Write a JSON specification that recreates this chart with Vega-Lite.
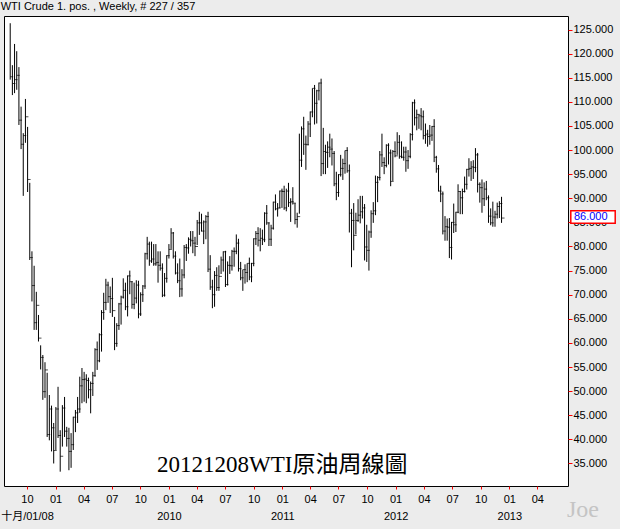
{
"$schema": "https://vega.github.io/schema/vega-lite/v6.json",
"width": 564,
"height": 470,
"autosize": {"type": "none"},
"padding": {"left": 4, "top": 16, "right": 52, "bottom": 43},
"background": "#ECECEC",
"config": {"view": {"stroke": "black", "strokeWidth": 1, "fill": "white"}, "font": "Liberation Sans", "axis": {"labelOverlap": false, "labelBound": false, "labelFlush": false}},
"title": {"text": "WTI Crude 1. pos. , Weekly, # 227 / 357", "anchor": "start", "font": "Liberation Sans", "fontSize": 11, "fontWeight": "normal", "color": "black", "offset": 4},
"datasets": {
"bars": [
{"d":"2008-08-08","h":126.3,"l":114.6,"c":115.2},
{"d":"2008-08-15","h":117.6,"l":111.4,"c":113.8},
{"d":"2008-08-22","h":122.0,"l":111.8,"c":114.6},
{"d":"2008-08-29","h":120.5,"l":112.5,"c":115.5},
{"d":"2008-09-05","h":117.2,"l":105.2,"c":106.2},
{"d":"2008-09-12","h":109.0,"l":100.2,"c":101.2},
{"d":"2008-09-19","h":103.5,"l":90.5,"c":103.0},
{"d":"2008-09-26","h":110.6,"l":101.5,"c":106.9},
{"d":"2008-10-03","h":104.8,"l":91.3,"c":93.9},
{"d":"2008-10-10","h":93.2,"l":77.2,"c":77.7},
{"d":"2008-10-17","h":79.0,"l":68.6,"c":71.9},
{"d":"2008-10-24","h":76.0,"l":62.7,"c":64.2},
{"d":"2008-10-31","h":70.6,"l":62.7,"c":67.8},
{"d":"2008-11-07","h":65.8,"l":60.3,"c":61.0},
{"d":"2008-11-14","h":59.5,"l":54.5,"c":57.0},
{"d":"2008-11-21","h":57.5,"l":48.2,"c":49.9},
{"d":"2008-11-28","h":56.0,"l":48.6,"c":54.4},
{"d":"2008-12-05","h":53.8,"l":40.5,"c":41.0},
{"d":"2008-12-12","h":49.2,"l":39.8,"c":46.3},
{"d":"2008-12-19","h":47.0,"l":37.5,"c":42.4},
{"d":"2008-12-26","h":43.4,"l":35.0,"c":37.7},
{"d":"2009-01-02","h":46.7,"l":37.8,"c":46.3},
{"d":"2009-01-09","h":50.9,"l":40.3,"c":40.8},
{"d":"2009-01-16","h":41.9,"l":33.3,"c":36.5},
{"d":"2009-01-23","h":47.1,"l":38.5,"c":46.5},
{"d":"2009-01-30","h":48.8,"l":40.5,"c":41.7},
{"d":"2009-02-06","h":42.6,"l":38.5,"c":40.2},
{"d":"2009-02-13","h":42.4,"l":33.6,"c":37.5},
{"d":"2009-02-20","h":41.3,"l":34.1,"c":38.9},
{"d":"2009-02-27","h":44.7,"l":37.8,"c":44.6},
{"d":"2009-03-06","h":46.1,"l":41.5,"c":45.5},
{"d":"2009-03-13","h":48.8,"l":43.4,"c":46.3},
{"d":"2009-03-20","h":53.0,"l":45.5,"c":51.1},
{"d":"2009-03-27","h":54.8,"l":47.5,"c":52.4},
{"d":"2009-04-03","h":54.0,"l":47.8,"c":52.5},
{"d":"2009-04-10","h":53.5,"l":47.5,"c":52.2},
{"d":"2009-04-17","h":52.8,"l":48.5,"c":50.3},
{"d":"2009-04-24","h":52.0,"l":45.4,"c":51.6},
{"d":"2009-05-01","h":54.0,"l":49.0,"c":53.2},
{"d":"2009-05-08","h":58.9,"l":53.0,"c":58.6},
{"d":"2009-05-15","h":60.3,"l":54.4,"c":56.3},
{"d":"2009-05-22","h":62.0,"l":56.0,"c":61.7},
{"d":"2009-05-29","h":66.8,"l":58.2,"c":66.3},
{"d":"2009-06-05","h":70.4,"l":64.8,"c":68.4},
{"d":"2009-06-12","h":73.3,"l":66.8,"c":72.0},
{"d":"2009-06-19","h":72.7,"l":68.3,"c":69.6},
{"d":"2009-06-26","h":71.7,"l":66.2,"c":69.2},
{"d":"2009-07-03","h":73.5,"l":65.4,"c":66.7},
{"d":"2009-07-10","h":65.4,"l":58.5,"c":59.9},
{"d":"2009-07-17","h":64.1,"l":59.2,"c":63.6},
{"d":"2009-07-24","h":68.3,"l":62.7,"c":68.1},
{"d":"2009-07-31","h":69.8,"l":63.8,"c":69.5},
{"d":"2009-08-07","h":73.4,"l":69.2,"c":70.9},
{"d":"2009-08-14","h":72.5,"l":66.8,"c":67.5},
{"d":"2009-08-21","h":74.0,"l":65.5,"c":73.9},
{"d":"2009-08-28","h":75.0,"l":70.1,"c":72.7},
{"d":"2009-09-04","h":72.8,"l":67.1,"c":68.0},
{"d":"2009-09-11","h":72.5,"l":67.0,"c":69.3},
{"d":"2009-09-18","h":73.0,"l":68.2,"c":72.0},
{"d":"2009-09-25","h":72.9,"l":65.1,"c":66.0},
{"d":"2009-10-02","h":70.5,"l":65.6,"c":70.0},
{"d":"2009-10-09","h":72.0,"l":68.5,"c":71.8},
{"d":"2009-10-16","h":78.7,"l":71.2,"c":78.5},
{"d":"2009-10-23","h":82.0,"l":77.3,"c":80.5},
{"d":"2009-10-30","h":81.0,"l":76.0,"c":77.0},
{"d":"2009-11-06","h":81.0,"l":76.6,"c":77.4},
{"d":"2009-11-13","h":80.5,"l":76.0,"c":76.4},
{"d":"2009-11-20","h":80.5,"l":76.0,"c":76.7},
{"d":"2009-11-27","h":79.0,"l":72.5,"c":76.1},
{"d":"2009-12-04","h":79.0,"l":75.0,"c":75.5},
{"d":"2009-12-11","h":76.5,"l":69.5,"c":69.9},
{"d":"2009-12-18","h":74.5,"l":69.6,"c":73.4},
{"d":"2009-12-25","h":78.2,"l":72.5,"c":78.1},
{"d":"2010-01-01","h":80.5,"l":77.5,"c":79.4},
{"d":"2010-01-08","h":83.8,"l":79.5,"c":82.8},
{"d":"2010-01-15","h":83.0,"l":77.5,"c":78.0},
{"d":"2010-01-22","h":79.0,"l":74.2,"c":74.5},
{"d":"2010-01-29","h":76.5,"l":72.4,"c":72.9},
{"d":"2010-02-05","h":77.5,"l":69.5,"c":71.2},
{"d":"2010-02-12","h":75.3,"l":69.6,"c":74.1},
{"d":"2010-02-19","h":80.3,"l":73.4,"c":79.8},
{"d":"2010-02-26","h":80.5,"l":77.0,"c":79.7},
{"d":"2010-03-05","h":81.9,"l":78.5,"c":81.5},
{"d":"2010-03-12","h":83.2,"l":80.0,"c":81.2},
{"d":"2010-03-19","h":83.2,"l":78.6,"c":80.7},
{"d":"2010-03-26","h":82.0,"l":78.0,"c":80.0},
{"d":"2010-04-02","h":85.5,"l":80.3,"c":84.9},
{"d":"2010-04-09","h":87.2,"l":82.4,"c":84.9},
{"d":"2010-04-16","h":86.8,"l":83.1,"c":83.2},
{"d":"2010-04-23","h":85.4,"l":80.5,"c":85.1},
{"d":"2010-04-30","h":86.5,"l":81.5,"c":86.2},
{"d":"2010-05-07","h":87.2,"l":74.7,"c":75.3},
{"d":"2010-05-14","h":78.2,"l":71.0,"c":71.6},
{"d":"2010-05-21","h":73.1,"l":67.2,"c":70.0},
{"d":"2010-05-28","h":74.9,"l":67.5,"c":74.0},
{"d":"2010-06-04","h":75.7,"l":70.8,"c":71.5},
{"d":"2010-06-11","h":76.1,"l":70.8,"c":73.8},
{"d":"2010-06-18","h":77.9,"l":74.3,"c":77.2},
{"d":"2010-06-25","h":79.0,"l":74.8,"c":78.9},
{"d":"2010-07-02","h":79.1,"l":71.6,"c":72.1},
{"d":"2010-07-09","h":76.9,"l":71.9,"c":76.1},
{"d":"2010-07-16","h":78.0,"l":74.3,"c":76.0},
{"d":"2010-07-23","h":79.3,"l":75.0,"c":79.0},
{"d":"2010-07-30","h":79.8,"l":75.8,"c":79.0},
{"d":"2010-08-06","h":82.5,"l":78.4,"c":80.7},
{"d":"2010-08-13","h":81.6,"l":74.8,"c":75.4},
{"d":"2010-08-20","h":76.8,"l":73.0,"c":73.5},
{"d":"2010-08-27","h":75.2,"l":70.8,"c":75.2},
{"d":"2010-09-03","h":76.3,"l":72.3,"c":74.6},
{"d":"2010-09-10","h":76.5,"l":72.6,"c":76.5},
{"d":"2010-09-17","h":77.7,"l":73.0,"c":73.7},
{"d":"2010-09-24","h":76.6,"l":72.6,"c":76.5},
{"d":"2010-10-01","h":81.7,"l":75.9,"c":81.6},
{"d":"2010-10-08","h":83.2,"l":80.3,"c":82.7},
{"d":"2010-10-15","h":84.0,"l":80.0,"c":81.3},
{"d":"2010-10-22","h":83.8,"l":79.0,"c":81.7},
{"d":"2010-10-29","h":83.5,"l":80.3,"c":81.4},
{"d":"2010-11-05","h":87.1,"l":80.9,"c":86.9},
{"d":"2010-11-12","h":88.6,"l":84.5,"c":84.9},
{"d":"2010-11-19","h":85.0,"l":80.1,"c":81.5},
{"d":"2010-11-26","h":84.5,"l":80.1,"c":83.8},
{"d":"2010-12-03","h":89.3,"l":83.5,"c":89.2},
{"d":"2010-12-10","h":90.8,"l":87.5,"c":87.8},
{"d":"2010-12-17","h":89.0,"l":86.2,"c":88.0},
{"d":"2010-12-24","h":91.6,"l":87.9,"c":91.5},
{"d":"2010-12-31","h":92.0,"l":88.0,"c":91.4},
{"d":"2011-01-07","h":92.6,"l":87.6,"c":88.0},
{"d":"2011-01-14","h":92.0,"l":87.3,"c":91.5},
{"d":"2011-01-21","h":93.2,"l":88.2,"c":89.1},
{"d":"2011-01-28","h":90.0,"l":85.1,"c":89.3},
{"d":"2011-02-04","h":92.3,"l":88.7,"c":89.0},
{"d":"2011-02-11","h":89.0,"l":84.6,"c":85.6},
{"d":"2011-02-18","h":87.0,"l":83.9,"c":86.2},
{"d":"2011-02-25","h":103.4,"l":86.8,"c":97.9},
{"d":"2011-03-04","h":104.9,"l":96.5,"c":104.4},
{"d":"2011-03-11","h":106.9,"l":99.0,"c":101.2},
{"d":"2011-03-18","h":103.0,"l":95.9,"c":101.1},
{"d":"2011-03-25","h":106.0,"l":101.0,"c":105.4},
{"d":"2011-04-01","h":108.0,"l":102.7,"c":107.9},
{"d":"2011-04-08","h":112.8,"l":106.8,"c":112.8},
{"d":"2011-04-15","h":113.5,"l":105.3,"c":109.7},
{"d":"2011-04-22","h":112.5,"l":105.5,"c":112.3},
{"d":"2011-04-29","h":114.0,"l":110.3,"c":113.9},
{"d":"2011-05-06","h":114.8,"l":94.6,"c":97.2},
{"d":"2011-05-13","h":104.6,"l":95.0,"c":99.7},
{"d":"2011-05-20","h":101.1,"l":95.0,"c":99.5},
{"d":"2011-05-27","h":101.8,"l":96.3,"c":100.6},
{"d":"2011-06-03","h":103.4,"l":98.5,"c":100.2},
{"d":"2011-06-10","h":102.4,"l":96.8,"c":99.3},
{"d":"2011-06-17","h":99.8,"l":92.5,"c":93.0},
{"d":"2011-06-24","h":95.5,"l":89.6,"c":91.2},
{"d":"2011-07-01","h":95.0,"l":90.3,"c":94.9},
{"d":"2011-07-08","h":99.0,"l":94.5,"c":96.2},
{"d":"2011-07-15","h":98.2,"l":93.8,"c":97.2},
{"d":"2011-07-22","h":99.9,"l":95.1,"c":99.9},
{"d":"2011-07-29","h":100.6,"l":95.3,"c":95.7},
{"d":"2011-08-05","h":97.0,"l":82.9,"c":86.9},
{"d":"2011-08-12","h":87.8,"l":75.7,"c":85.4},
{"d":"2011-08-19","h":89.0,"l":79.2,"c":82.3},
{"d":"2011-08-26","h":87.0,"l":82.5,"c":85.4},
{"d":"2011-09-02","h":89.8,"l":85.1,"c":86.5},
{"d":"2011-09-09","h":90.5,"l":84.8,"c":87.2},
{"d":"2011-09-16","h":90.5,"l":85.8,"c":88.0},
{"d":"2011-09-23","h":88.8,"l":77.1,"c":79.9},
{"d":"2011-09-30","h":84.5,"l":76.8,"c":79.2},
{"d":"2011-10-07","h":83.3,"l":75.0,"c":83.0},
{"d":"2011-10-14","h":87.5,"l":81.8,"c":86.8},
{"d":"2011-10-21","h":89.2,"l":84.9,"c":87.4},
{"d":"2011-10-28","h":94.7,"l":86.5,"c":93.3},
{"d":"2011-11-04","h":94.6,"l":89.2,"c":94.3},
{"d":"2011-11-11","h":99.8,"l":93.7,"c":99.0},
{"d":"2011-11-18","h":103.4,"l":96.5,"c":97.4},
{"d":"2011-11-25","h":98.5,"l":95.0,"c":96.8},
{"d":"2011-12-02","h":101.2,"l":96.4,"c":101.0},
{"d":"2011-12-09","h":101.4,"l":97.0,"c":99.4},
{"d":"2011-12-16","h":100.1,"l":92.5,"c":93.5},
{"d":"2011-12-23","h":100.0,"l":93.6,"c":99.7},
{"d":"2011-12-30","h":101.8,"l":98.5,"c":98.8},
{"d":"2012-01-06","h":103.7,"l":99.0,"c":101.6},
{"d":"2012-01-13","h":103.1,"l":98.2,"c":98.7},
{"d":"2012-01-20","h":101.8,"l":98.3,"c":98.5},
{"d":"2012-01-27","h":100.7,"l":97.8,"c":99.6},
{"d":"2012-02-03","h":100.7,"l":95.5,"c":97.8},
{"d":"2012-02-10","h":100.0,"l":96.1,"c":98.7},
{"d":"2012-02-17","h":103.5,"l":98.3,"c":103.2},
{"d":"2012-02-24","h":110.0,"l":102.0,"c":109.8},
{"d":"2012-03-02","h":110.5,"l":105.1,"c":106.7},
{"d":"2012-03-09","h":108.4,"l":104.1,"c":107.4},
{"d":"2012-03-16","h":107.4,"l":104.4,"c":107.1},
{"d":"2012-03-23","h":108.7,"l":104.1,"c":106.9},
{"d":"2012-03-30","h":108.2,"l":102.2,"c":103.0},
{"d":"2012-04-06","h":105.5,"l":101.3,"c":103.3},
{"d":"2012-04-13","h":104.2,"l":100.7,"c":102.8},
{"d":"2012-04-20","h":105.2,"l":101.1,"c":103.1},
{"d":"2012-04-27","h":105.0,"l":101.9,"c":104.9},
{"d":"2012-05-04","h":106.4,"l":97.5,"c":98.5},
{"d":"2012-05-11","h":98.8,"l":95.3,"c":96.1},
{"d":"2012-05-18","h":96.9,"l":91.4,"c":91.5},
{"d":"2012-05-25","h":92.6,"l":89.2,"c":90.9},
{"d":"2012-06-01","h":91.4,"l":82.5,"c":83.2},
{"d":"2012-06-08","h":86.3,"l":81.2,"c":84.1},
{"d":"2012-06-15","h":85.8,"l":81.2,"c":84.0},
{"d":"2012-06-22","h":85.9,"l":77.6,"c":79.8},
{"d":"2012-06-29","h":85.1,"l":77.3,"c":85.0},
{"d":"2012-07-06","h":88.9,"l":82.8,"c":84.5},
{"d":"2012-07-13","h":87.2,"l":83.0,"c":87.1},
{"d":"2012-07-20","h":92.9,"l":86.9,"c":91.4},
{"d":"2012-07-27","h":91.5,"l":86.7,"c":90.1},
{"d":"2012-08-03","h":92.0,"l":86.7,"c":91.4},
{"d":"2012-08-10","h":94.5,"l":91.2,"c":92.9},
{"d":"2012-08-17","h":96.1,"l":91.8,"c":96.0},
{"d":"2012-08-24","h":98.3,"l":94.5,"c":96.2},
{"d":"2012-08-31","h":97.7,"l":93.6,"c":96.5},
{"d":"2012-09-07","h":97.9,"l":94.0,"c":96.4},
{"d":"2012-09-14","h":100.4,"l":95.4,"c":99.0},
{"d":"2012-09-21","h":99.4,"l":91.2,"c":92.9},
{"d":"2012-09-28","h":93.3,"l":89.1,"c":92.2},
{"d":"2012-10-05","h":93.9,"l":87.0,"c":89.9},
{"d":"2012-10-12","h":93.3,"l":88.4,"c":91.9},
{"d":"2012-10-19","h":93.6,"l":89.6,"c":90.1},
{"d":"2012-10-26","h":90.6,"l":84.9,"c":86.3},
{"d":"2012-11-02","h":87.9,"l":84.4,"c":84.9},
{"d":"2012-11-09","h":89.3,"l":84.1,"c":86.1},
{"d":"2012-11-16","h":87.4,"l":84.1,"c":86.7},
{"d":"2012-11-23","h":89.1,"l":85.8,"c":88.3},
{"d":"2012-11-30","h":89.4,"l":85.9,"c":88.9},
{"d":"2012-12-07","h":90.3,"l":84.9,"c":85.9}
]
},
"layer": [
{
"data": {"name": "bars"},
"mark": {"type": "rule", "color": "black", "strokeWidth": 1},
"encoding": {
"x": {"field": "d", "type": "temporal",
"scale": {"domain": [{"year": 2008, "month": 7, "date": 19}, {"year": 2013, "month": 7, "date": 9}]},
"axis": {"title": null, "grid": false, "domain": false, "tickColor": "red", "tickSize": 3, "labelPadding": 4, "tickCount": 60,
"labelFont": "Liberation Sans, Noto Sans CJK TC", "labelFontSize": 11, "labelColor": "black",
"labelOverlap": false, "labelBound": false, "labelFlush": false, "labelLineHeight": 17,
"values": [
{"year": 2008, "month": 10, "date": 1},
{"year": 2009, "month": 1, "date": 1}, {"year": 2009, "month": 4, "date": 1}, {"year": 2009, "month": 7, "date": 1}, {"year": 2009, "month": 10, "date": 1},
{"year": 2010, "month": 1, "date": 1}, {"year": 2010, "month": 4, "date": 1}, {"year": 2010, "month": 7, "date": 1}, {"year": 2010, "month": 10, "date": 1},
{"year": 2011, "month": 1, "date": 1}, {"year": 2011, "month": 4, "date": 1}, {"year": 2011, "month": 7, "date": 1}, {"year": 2011, "month": 10, "date": 1},
{"year": 2012, "month": 1, "date": 1}, {"year": 2012, "month": 4, "date": 1}, {"year": 2012, "month": 7, "date": 1}, {"year": 2012, "month": 10, "date": 1},
{"year": 2013, "month": 1, "date": 1}, {"year": 2013, "month": 4, "date": 1}
],
"labelExpr": "year(datum.value) == 2008 ? ['10', '十月/01/08'] : (month(datum.value) == 0 && year(datum.value) >= 2010 ? [timeFormat(datum.value, '%m'), timeFormat(datum.value, '%Y')] : timeFormat(datum.value, '%m'))"
}},
"y": {"field": "l", "type": "quantitative",
"scale": {"domain": [30.33, 127.8], "nice": false, "zero": false},
"axis": {"orient": "right", "title": null, "grid": false, "domain": false, "tickColor": "red", "tickSize": 4, "labelPadding": 1, "tickCount": 60,
"labelOverlap": false, "format": ".3f", "labelFont": "Liberation Sans", "labelFontSize": 11, "labelColor": "black",
"values": [35, 40, 45, 50, 55, 60, 65, 70, 75, 80, 85, 90, 95, 100, 105, 110, 115, 120, 125]}},
"y2": {"field": "h"}
}
},
{
"data": {"name": "bars"},
"mark": {"type": "tick", "orient": "horizontal", "color": "black", "size": 3, "thickness": 1, "xOffset": 1.5},
"encoding": {
"x": {"field": "d", "type": "temporal"},
"y": {"field": "c", "type": "quantitative"}
}
},
{
"data": {"values": [{}]},
"mark": {"type": "text", "font": "Liberation Serif, Noto Sans CJK TC", "fontSize": 23, "color": "black", "align": "center", "baseline": "middle"},
"encoding": {
"x": {"datum": {"year": 2011, "month": 1, "date": 1}, "type": "temporal"},
"y": {"datum": 34.6, "type": "quantitative"},
"text": {"value": "20121208WTI原油周線圖"}
}
},
{
"data": {"values": [{}]},
"mark": {"type": "text", "font": "Liberation Serif", "fontSize": 24, "color": "#C4C4C4", "align": "center", "baseline": "middle"},
"encoding": {
"x": {"datum": {"year": 2013, "month": 8, "date": 26}, "type": "temporal"},
"y": {"datum": 25.4, "type": "quantitative"},
"text": {"value": "Joe"}
}
},
{
"data": {"values": [{}]},
"mark": {"type": "rect", "fill": "white", "stroke": "red", "strokeWidth": 1.5},
"encoding": {
"x": {"datum": {"year": 2013, "month": 7, "date": 18}, "type": "temporal"},
"x2": {"datum": {"year": 2013, "month": 12, "date": 8}},
"y": {"datum": 87.43, "type": "quantitative"},
"y2": {"datum": 84.83}
}
},
{
"data": {"values": [{}]},
"mark": {"type": "text", "font": "Liberation Sans", "fontSize": 11, "color": "blue", "align": "left", "baseline": "middle"},
"encoding": {
"x": {"datum": {"year": 2013, "month": 7, "date": 28}, "type": "temporal"},
"y": {"datum": 86.1, "type": "quantitative"},
"text": {"value": "86.000"}
}
}
]
}
